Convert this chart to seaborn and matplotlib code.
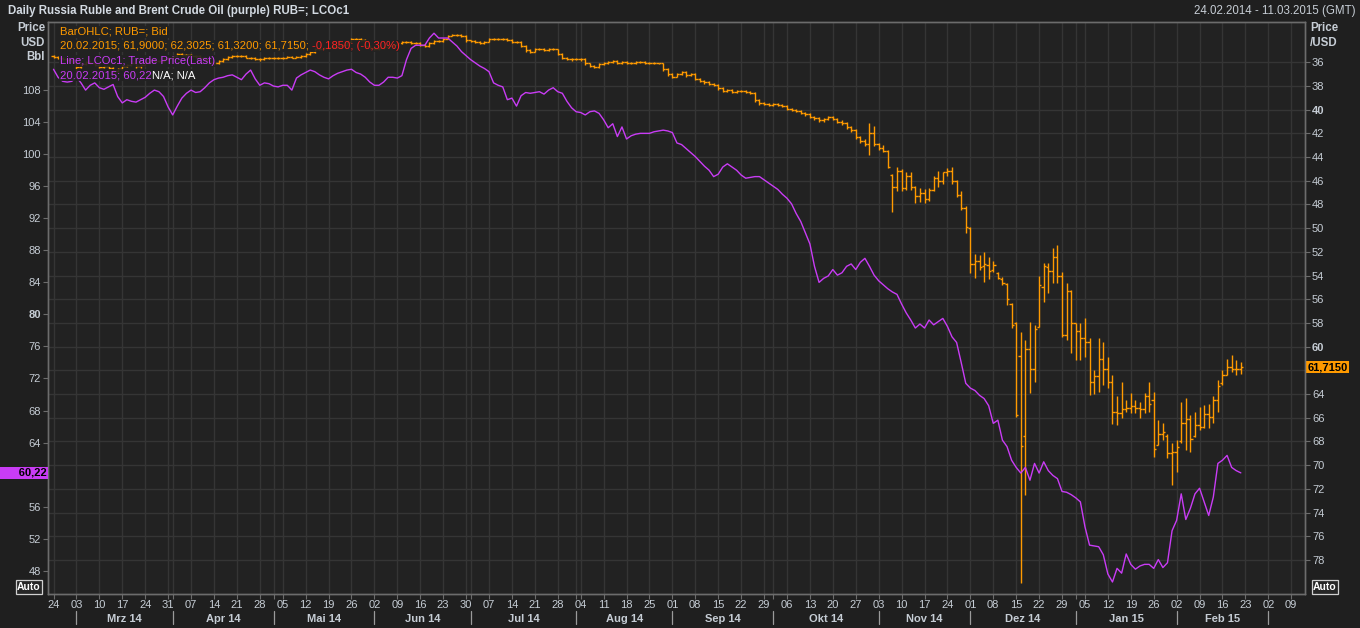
import numpy as np
import pandas as pd
import seaborn as sns
import matplotlib
matplotlib.use("Agg")
import matplotlib.pyplot as plt
from matplotlib.transforms import blended_transform_factory

# one slot per trading day (weekends are skipped on this kind of chart)
days = pd.bdate_range("2014-02-24", "2015-02-20")
axis_days = pd.bdate_range("2014-02-24", "2015-03-13")

# USD/RUB daily bars
rub_open = [
    35.50, 35.55, 35.60, 35.70, 35.80, 35.95, 36.40, 36.15, 35.95, 36.05,
    36.20, 36.40, 36.35, 36.50, 36.70, 36.55, 36.30, 36.25, 36.10, 36.35,
    36.20, 35.95, 35.80, 35.85, 35.90, 35.70, 35.65, 35.45, 35.30, 35.35,
    35.40, 35.45, 35.50, 35.65, 35.80, 36.00, 36.10, 35.90, 35.70, 35.55,
    35.50, 35.45, 35.50, 35.60, 35.65, 35.70, 35.75, 35.65, 35.60, 35.60,
    35.65, 35.60, 35.55, 35.60, 35.55, 35.45, 35.30, 35.10, 34.90, 34.85,
    34.80, 34.75, 34.70, 34.60, 34.50, 34.30, 34.05, 34.00, 34.10, 34.60,
    34.80, 34.90, 34.80, 34.70, 34.60, 34.50, 34.35, 34.30, 34.30, 34.35,
    34.40, 34.55, 34.65, 34.40, 34.20, 34.20, 34.00, 33.75, 33.70, 33.70,
    33.80, 34.15, 34.20, 34.30, 34.40, 34.25, 34.05, 34.00, 34.00, 34.05,
    34.10, 34.30, 34.30, 34.60, 35.00, 35.10, 34.90, 34.90, 34.95, 34.85,
    34.90, 35.30, 35.60, 35.70, 35.75, 35.70, 35.75, 36.10, 36.30, 36.40,
    36.15, 36.05, 36.00, 35.90, 36.10, 36.00, 36.05, 36.10, 36.00, 36.00,
    36.10, 36.05, 36.10, 36.10, 36.60, 37.00, 37.20, 37.00, 36.80, 37.10,
    37.00, 37.40, 37.60, 37.70, 37.80, 37.90, 38.20, 38.40, 38.30, 38.50,
    38.40, 38.40, 38.50, 38.60, 39.20, 39.40, 39.50, 39.60, 39.50, 39.60,
    39.70, 39.90, 40.00, 40.10, 40.30, 40.40, 40.60, 40.70, 40.90, 40.80,
    40.60, 40.80, 41.00, 41.10, 41.50, 41.70, 42.30, 42.60, 42.90, 42.00,
    42.90, 43.20, 43.50, 45.50, 46.50, 45.20, 46.60, 45.60, 46.50, 47.30,
    47.00, 47.50, 46.80, 45.80, 46.00, 45.30, 45.20, 46.00, 47.20, 48.30,
    50.00, 53.00, 52.80, 53.20, 53.10, 53.50, 53.80, 54.30, 54.70, 56.40,
    58.00, 60.80, 67.50, 60.20, 61.90, 58.30, 55.00, 53.30, 53.60, 52.40,
    54.00, 59.00, 55.30, 58.00, 58.70, 59.30, 59.60, 63.00, 62.50, 61.00,
    61.90, 63.00, 65.50, 65.60, 65.30, 65.20, 65.00, 65.20, 65.30, 64.20,
    64.50, 68.30, 67.40, 67.50, 69.00, 68.90, 68.00, 66.40, 66.10, 67.50,
    66.60, 66.80, 65.70, 65.90, 64.50, 63.10, 62.40, 61.70, 61.90, 61.90,
]
rub_high = [
    35.65, 35.70, 35.80, 35.90, 36.05, 36.80, 36.50, 36.25, 36.15, 36.30,
    36.50, 36.50, 36.60, 36.80, 36.80, 36.62, 36.40, 36.35, 36.45, 36.45,
    36.28, 36.05, 35.95, 36.00, 35.98, 35.80, 35.72, 35.55, 35.45, 35.50,
    35.55, 35.60, 35.75, 35.92, 36.15, 36.20, 36.18, 35.98, 35.78, 35.62,
    35.58, 35.58, 35.68, 35.75, 35.80, 35.85, 35.82, 35.72, 35.70, 35.75,
    35.72, 35.68, 35.68, 35.68, 35.62, 35.52, 35.38, 35.18, 34.98, 34.92,
    34.88, 34.82, 34.78, 34.68, 34.58, 34.38, 34.12, 34.18, 34.68, 34.90,
    35.00, 34.98, 34.88, 34.78, 34.68, 34.58, 34.42, 34.38, 34.42, 34.48,
    34.62, 34.75, 34.72, 34.48, 34.28, 34.28, 34.05, 33.82, 33.78, 33.88,
    34.25, 34.28, 34.38, 34.48, 34.48, 34.32, 34.12, 34.08, 34.12, 34.18,
    34.38, 34.38, 34.70, 35.12, 35.20, 35.15, 34.98, 35.02, 35.02, 34.98,
    35.40, 35.70, 35.80, 35.85, 35.82, 35.85, 36.20, 36.42, 36.52, 36.48,
    36.22, 36.12, 36.08, 36.18, 36.18, 36.12, 36.18, 36.18, 36.08, 36.18,
    36.18, 36.18, 36.18, 36.72, 37.12, 37.30, 37.28, 37.08, 37.20, 37.18,
    37.50, 37.70, 37.80, 37.90, 38.00, 38.30, 38.50, 38.48, 38.60, 38.58,
    38.50, 38.60, 38.70, 39.35, 39.60, 39.60, 39.70, 39.68, 39.70, 39.80,
    40.00, 40.10, 40.20, 40.40, 40.50, 40.70, 40.85, 41.05, 41.00, 40.90,
    40.90, 41.12, 41.25, 41.65, 41.85, 42.45, 42.80, 43.10, 43.80, 43.10,
    43.40, 43.60, 44.90, 48.60, 46.90, 46.90, 46.80, 46.80, 47.90, 47.80,
    47.90, 47.70, 46.90, 46.50, 46.30, 45.60, 46.30, 47.40, 48.50, 50.40,
    53.80, 54.20, 53.50, 54.50, 54.30, 53.70, 54.30, 54.80, 56.50, 58.40,
    65.90, 79.90, 72.50, 63.90, 63.00, 58.30, 56.20, 55.50, 54.60, 54.60,
    59.20, 59.40, 60.50, 61.10, 61.10, 60.90, 64.10, 64.00, 63.80, 63.20,
    63.50, 66.50, 66.60, 66.00, 65.50, 65.60, 65.60, 66.00, 65.60, 65.50,
    69.30, 68.30, 67.90, 69.40, 71.70, 70.60, 68.10, 68.70, 68.90, 67.60,
    67.00, 66.90, 66.90, 66.40, 65.50, 63.20, 62.40, 62.10, 62.40, 62.3025,
]
rub_low = [
    35.42, 35.47, 35.52, 35.62, 35.72, 35.90, 36.05, 35.85, 35.88, 35.98,
    36.12, 36.25, 36.28, 36.42, 36.45, 36.22, 36.15, 36.02, 36.02, 36.12,
    35.88, 35.72, 35.72, 35.78, 35.62, 35.55, 35.38, 35.22, 35.22, 35.28,
    35.32, 35.38, 35.42, 35.58, 35.72, 35.92, 35.82, 35.62, 35.48, 35.42,
    35.38, 35.38, 35.42, 35.52, 35.58, 35.62, 35.58, 35.52, 35.52, 35.52,
    35.52, 35.48, 35.45, 35.48, 35.38, 35.22, 35.02, 34.82, 34.78, 34.72,
    34.68, 34.62, 34.52, 34.42, 34.22, 33.98, 33.92, 33.92, 34.02, 34.52,
    34.72, 34.72, 34.62, 34.52, 34.42, 34.28, 34.22, 34.22, 34.22, 34.28,
    34.32, 34.48, 34.32, 34.12, 34.12, 33.92, 33.68, 33.62, 33.62, 33.62,
    33.72, 34.08, 34.12, 34.22, 34.18, 33.98, 33.92, 33.92, 33.92, 33.98,
    34.02, 34.22, 34.22, 34.52, 34.92, 34.82, 34.82, 34.82, 34.78, 34.78,
    34.85, 35.22, 35.52, 35.62, 35.62, 35.62, 35.68, 36.02, 36.22, 36.08,
    35.98, 35.92, 35.82, 35.82, 35.92, 35.92, 35.98, 35.92, 35.92, 35.92,
    35.98, 35.98, 36.02, 36.02, 36.52, 36.92, 36.92, 36.72, 36.72, 36.92,
    36.92, 37.32, 37.52, 37.62, 37.72, 37.82, 38.12, 38.22, 38.22, 38.32,
    38.32, 38.32, 38.42, 38.52, 39.12, 39.32, 39.42, 39.42, 39.42, 39.52,
    39.62, 39.82, 39.92, 40.02, 40.22, 40.32, 40.52, 40.62, 40.70, 40.52,
    40.52, 40.72, 40.90, 41.02, 41.40, 41.60, 42.20, 42.50, 41.10, 41.40,
    42.80, 43.00, 43.40, 45.40, 44.80, 45.00, 45.30, 45.30, 46.40, 46.60,
    46.70, 46.60, 45.60, 45.20, 45.30, 44.90, 44.80, 45.90, 46.90, 48.10,
    49.90, 52.20, 52.30, 52.00, 52.40, 52.80, 53.70, 54.10, 54.60, 56.30,
    57.90, 58.80, 59.40, 57.90, 58.20, 54.00, 52.90, 52.90, 51.70, 51.40,
    53.70, 54.60, 55.20, 58.00, 58.00, 57.60, 59.30, 62.00, 59.30, 59.60,
    60.90, 62.40, 64.20, 63.00, 64.50, 63.90, 64.50, 64.70, 63.90, 63.00,
    63.80, 66.20, 66.40, 67.40, 68.10, 67.90, 64.70, 64.30, 65.80, 65.50,
    65.10, 64.90, 64.80, 64.20, 62.80, 62.00, 61.00, 60.70, 61.10, 61.32,
]
rub_close = [
    35.55, 35.60, 35.70, 35.80, 35.95, 36.40, 36.15, 35.95, 36.05, 36.20,
    36.40, 36.35, 36.50, 36.70, 36.55, 36.30, 36.25, 36.10, 36.35, 36.20,
    35.95, 35.80, 35.85, 35.90, 35.70, 35.65, 35.45, 35.30, 35.35, 35.40,
    35.45, 35.50, 35.65, 35.80, 36.00, 36.10, 35.90, 35.70, 35.55, 35.50,
    35.45, 35.50, 35.60, 35.65, 35.70, 35.75, 35.65, 35.60, 35.60, 35.65,
    35.60, 35.55, 35.60, 35.55, 35.45, 35.30, 35.10, 34.90, 34.85, 34.80,
    34.75, 34.70, 34.60, 34.50, 34.30, 34.05, 34.00, 34.10, 34.60, 34.80,
    34.90, 34.80, 34.70, 34.60, 34.50, 34.35, 34.30, 34.30, 34.35, 34.40,
    34.55, 34.65, 34.40, 34.20, 34.20, 34.00, 33.75, 33.70, 33.70, 33.80,
    34.15, 34.20, 34.30, 34.40, 34.25, 34.05, 34.00, 34.00, 34.05, 34.10,
    34.30, 34.30, 34.60, 35.00, 35.10, 34.90, 34.90, 34.95, 34.85, 34.90,
    35.30, 35.60, 35.70, 35.75, 35.70, 35.75, 36.10, 36.30, 36.40, 36.15,
    36.05, 36.00, 35.90, 36.10, 36.00, 36.05, 36.10, 36.00, 36.00, 36.10,
    36.05, 36.10, 36.10, 36.60, 37.00, 37.20, 37.00, 36.80, 37.10, 37.00,
    37.40, 37.60, 37.70, 37.80, 37.90, 38.20, 38.40, 38.30, 38.50, 38.40,
    38.40, 38.50, 38.60, 39.20, 39.40, 39.50, 39.60, 39.50, 39.60, 39.70,
    39.90, 40.00, 40.10, 40.30, 40.40, 40.60, 40.70, 40.90, 40.80, 40.60,
    40.80, 41.00, 41.10, 41.50, 41.70, 42.30, 42.60, 42.90, 42.00, 42.90,
    43.20, 43.50, 44.80, 46.50, 45.20, 46.60, 45.60, 46.50, 47.30, 47.00,
    47.50, 46.80, 45.80, 46.00, 45.30, 45.20, 46.00, 47.20, 48.30, 49.90,
    53.00, 52.80, 53.30, 53.00, 53.60, 53.10, 54.20, 54.60, 56.00, 58.20,
    65.80, 68.40, 60.20, 61.90, 58.50, 54.80, 53.20, 53.60, 52.40, 54.00,
    59.00, 55.30, 58.00, 58.70, 59.30, 59.60, 63.00, 62.50, 61.00, 61.90,
    63.00, 65.50, 65.60, 65.30, 65.20, 65.00, 65.20, 65.30, 64.20, 64.80,
    68.60, 67.40, 67.20, 69.00, 68.90, 68.50, 66.40, 66.10, 67.80, 66.60,
    66.80, 65.70, 65.90, 64.50, 63.30, 62.40, 61.70, 61.90, 61.90, 61.715,
]

# Brent (LCOc1) last trade price
brent_close = [
    110.6, 109.6, 109.1, 109.0, 109.1, 109.6, 108.9, 108.0, 108.6, 108.9,
    108.3, 108.1, 108.4, 108.7, 107.2, 106.4, 106.8, 106.6, 106.5, 106.8,
    107.1, 107.6, 108.0, 107.8, 107.2, 105.9, 104.9, 106.0, 107.0, 107.6,
    108.0, 107.7, 107.8, 108.3, 108.9, 109.3, 109.5, 109.6, 109.8, 109.9,
    109.6, 109.3, 110.0, 110.5, 109.4, 108.6, 108.9, 108.8, 108.5, 108.4,
    108.6, 108.6, 108.0, 109.5, 109.9, 110.2, 110.5, 110.3, 109.9, 109.6,
    109.4, 109.8, 110.1, 110.3, 110.5, 110.6, 110.2, 110.0, 109.6, 109.0,
    108.6, 108.6, 109.0, 109.6, 109.6, 109.5, 109.8, 111.8, 113.2, 113.6,
    113.6, 113.6, 114.5, 115.1, 114.5, 114.5, 114.5, 114.0, 113.5, 112.8,
    112.3, 111.8, 111.4, 111.0, 110.7, 110.3, 108.9, 108.6, 108.4, 106.8,
    107.0, 106.0, 107.3, 107.7, 107.6, 107.7, 107.8, 107.5, 108.0, 108.3,
    107.8, 107.6, 106.6, 105.8, 105.3, 105.2, 104.9, 105.3, 105.4, 105.1,
    104.3, 103.3, 103.8, 102.2, 103.4, 101.9, 102.3, 102.5, 102.6, 102.6,
    102.6, 102.8, 102.9, 103.0, 102.9, 102.7, 101.4, 101.2, 100.7, 100.2,
    99.7, 99.1, 98.5, 98.0, 97.2, 97.5, 98.4, 98.8, 98.4, 98.0,
    97.4, 97.0, 97.1, 97.2, 97.2, 96.8, 96.4, 96.0, 95.6, 95.0,
    94.5, 93.8, 92.6, 91.6, 90.2, 88.8, 86.0, 84.0, 84.5, 84.8,
    85.6, 84.9, 85.2, 86.0, 86.3, 85.6, 86.5, 87.0, 86.0, 84.9,
    84.2, 83.7, 83.2, 82.8, 82.5, 81.3, 80.2, 79.3, 78.3, 78.8,
    78.3, 79.3, 78.7, 79.1, 79.5, 78.5, 77.2, 76.5, 74.0, 71.4,
    70.8, 70.5, 69.9, 69.5, 68.6, 66.4, 66.8, 64.3, 63.5, 61.8,
    60.9, 60.2, 60.9, 59.3, 61.4, 60.2, 61.6, 60.5, 59.9, 59.5,
    57.9, 57.8, 57.5, 57.1, 56.6, 53.5, 51.2, 51.1, 51.0, 50.0,
    47.6, 46.6, 48.3, 47.7, 50.1, 48.8, 48.2, 48.6, 48.8, 48.8,
    48.3, 49.4, 48.4, 49.0, 53.0, 54.3, 57.6, 54.4, 55.8, 57.6,
    58.3, 56.6, 54.9, 57.2, 61.4, 61.8, 62.4, 60.9, 60.5, 60.22,
]

week_labels = ['24', '03', '10', '17', '24', '31', '07', '14', '21', '28',
               '05', '12', '19', '26', '02', '09', '16', '23', '30', '07',
               '14', '21', '28', '04', '11', '18', '25', '01', '08', '15',
               '22', '29', '06', '13', '20', '27', '03', '10', '17', '24',
               '01', '08', '15', '22', '29', '05', '12', '19', '26', '02',
               '09', '16', '23', '02', '09']
month_labels = ['Mrz 14', 'Apr 14', 'Mai 14', 'Jun 14', 'Jul 14', 'Aug 14',
                'Sep 14', 'Okt 14', 'Nov 14', 'Dez 14', 'Jan 15', 'Feb 15']
rub_ticks = list(range(36, 80, 2))
brent_ticks = list(range(48, 112, 4))

FIG_BG = '#1f1f1f'
AX_BG = '#222222'
GRID = '#353535'
SPINE = '#6c6c6c'
TXT = '#c6cdd5'
ORANGE = '#ff9a00'
PURPLE = '#c93cf5'
RED = '#ff2222'

sns.set_theme(style='dark')
plt.rcParams['font.family'] = ['Liberation Sans', 'DejaVu Sans']

W, H = 1360, 628
fig = plt.figure(figsize=(13.6, 6.28), dpi=100, facecolor=FIG_BG)
ax = fig.add_axes([48 / W, 1 - 594 / H, (1305 - 48) / W, (594 - 22) / H])
ax.set_facecolor(AX_BG)
axb = ax.twinx()

pos = np.arange(len(days))
axis_pos = np.arange(len(axis_days))
mondays = axis_pos[axis_days.dayofweek == 0]
month_starts = axis_pos[1:][axis_days.month[1:] != axis_days.month[:-1]]

# --- RUB bars on the right (inverted) axis
ax.vlines(pos, rub_low, rub_high, color=ORANGE, lw=1.0, zorder=3)
ax.hlines(rub_open, pos - 0.5, pos, color=ORANGE, lw=1.0, zorder=3)
ax.hlines(rub_close, pos, pos + 0.5, color=ORANGE, lw=1.0, zorder=3)
ax.set_ylim(80.87, 32.6)
# the last-value box covers the 62 label, as on the terminal
ax.set_yticks(rub_ticks, ['' if t == 62 else str(t) for t in rub_ticks])
ax.yaxis.tick_right()
ax.set_xlim(-1.2, 273)

# --- Brent line on the left axis
brent_df = pd.DataFrame({'t': pos, 'brent': brent_close})
sns.lineplot(data=brent_df, x='t', y='brent', ax=axb, color=PURPLE, linewidth=1.0)
axb.set_ylim(45.1, 116.5)
axb.set_yticks(brent_ticks, ['' if t == 60 else str(t) for t in brent_ticks])
axb.yaxis.tick_left()
axb.set_xlabel('')
axb.set_ylabel('')
ax.set_ylabel('')
axb.grid(False)

# grid / ticks
ax.set_xticks(mondays, week_labels)
ax.set_xticks(month_starts, minor=True)
ax.grid(True, which='both', axis='x', color=GRID, lw=1.0)
ax.grid(True, which='major', axis='y', color=GRID, lw=1.0)
ax.set_axisbelow(True)
for a in (ax, axb):
    for s in a.spines.values():
        s.set_color(SPINE)
        s.set_linewidth(1.0)
ax.tick_params(axis='x', which='both', bottom=True, length=3.5, width=0.8,
               color=SPINE, labelsize=8, labelcolor=TXT, pad=1)
ax.tick_params(axis='y', right=True, left=False, length=3.5, width=0.8,
               color=SPINE, labelsize=8, labelcolor=TXT, pad=1.5)
axb.tick_params(axis='y', left=True, right=False, length=3.5, width=0.8,
                color=SPINE, labelsize=8, labelcolor=TXT, pad=1.5)
for lab in ax.get_yticklabels():
    if lab.get_text() in ('40', '60'):
        lab.set_fontweight('bold')
for lab in axb.get_yticklabels():
    if lab.get_text() == '80':
        lab.set_fontweight('bold')

# month row under the day numbers
tr = blended_transform_factory(ax.transData, ax.transAxes)
for m in month_starts:
    ax.plot([m, m], [-0.030, -0.053], transform=tr, color='#9a9a9a',
            lw=0.9, clip_on=False)
for k, name in enumerate(month_labels):
    mid = (month_starts[k] + month_starts[k + 1]) / 2
    ax.text(mid, -0.0435, name, transform=tr, ha='center', va='center',
            fontsize=8, fontweight='bold', color=TXT)

# last value markers
trr = blended_transform_factory(ax.transAxes, ax.transData)
ax.text(1.002, rub_close[-1], '61,7150', transform=trr, ha='left', va='center',
        fontsize=8, fontweight='bold', color='black', zorder=6,
        bbox=dict(facecolor=ORANGE, edgecolor='none', boxstyle='square,pad=0.12'))
trl = blended_transform_factory(axb.transAxes, axb.transData)
axb.text(-0.001, brent_close[-1], '      60,22', transform=trl, ha='right',
         va='center', fontsize=8, fontweight='bold', color='black', zorder=6,
         bbox=dict(facecolor=PURPLE, edgecolor='none', boxstyle='square,pad=0.12'))

# header and axis captions
def fx(px):
    return px / W

def fy(py):
    return 1 - py / H

fig.text(fx(8), fy(11), 'Daily Russia Ruble and Brent Crude Oil (purple) RUB=; LCOc1',
         fontsize=8.3, fontweight='bold', color='#d3dae2', va='center')
fig.text(fx(1355), fy(11), '24.02.2014 - 11.03.2015 (GMT)', fontsize=8.3,
         color=TXT, va='center', ha='right')
for i, word in enumerate(['Price', 'USD', 'Bbl']):
    fig.text(fx(45), fy(28 + 14.5 * i), word, ha='right', va='center',
             fontsize=8.3, fontweight='bold', color=TXT)
for i, word in enumerate(['Price', '/USD']):
    fig.text(fx(1310), fy(28 + 14.5 * i), word, ha='left', va='center',
             fontsize=8.3, fontweight='bold', color=TXT)

auto_box = dict(facecolor='#262626', edgecolor='#d0d0d0', boxstyle='square,pad=0.15', lw=0.9)
fig.text(fx(29), fy(587), 'Auto', ha='center', va='center', fontsize=7.5,
         fontweight='bold', color='white', bbox=auto_box)
fig.text(fx(1325), fy(587), 'Auto', ha='center', va='center', fontsize=7.5,
         fontweight='bold', color='white', bbox=auto_box)

# legend block in the top left of the plot
leg_box = dict(facecolor=AX_BG, edgecolor='none', alpha=0.9, boxstyle='square,pad=0.1')
renderer = fig.canvas.get_renderer()

def legend_line(py, parts):
    x = fx(60)
    for text, color in parts:
        t = fig.text(x, fy(py), text, fontsize=8.1, color=color, va='center',
                     ha='left', bbox=leg_box, zorder=5)
        bb = t.get_window_extent(renderer=renderer)
        x = bb.x1 / fig.bbox.width

legend_line(32, [('BarOHLC; RUB=; Bid', ORANGE)])
legend_line(46, [('20.02.2015; 61,9000; 62,3025; 61,3200; 61,7150; ', ORANGE),
                 ('-0,1850; (-0,30%)', RED)])
legend_line(61, [('Line; LCOc1; Trade Price(Last)', PURPLE)])
legend_line(75, [('20.02.2015; 60,22', PURPLE), ('N/A; N/A', 'white')])

fig.savefig('out.png', dpi=100, facecolor=FIG_BG)
